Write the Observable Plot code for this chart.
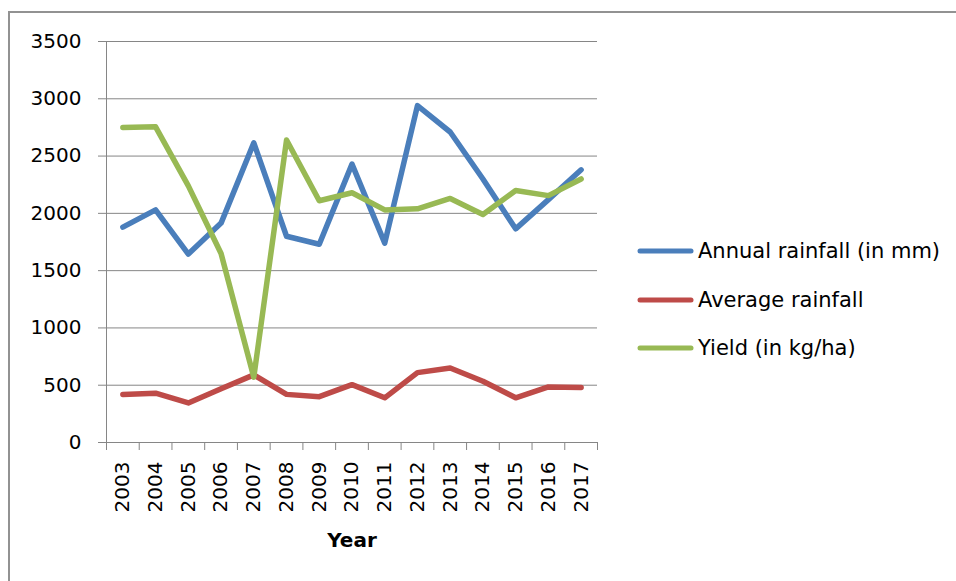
<!DOCTYPE html>
<html>
<head>
<meta charset="utf-8">
<script src="https://cdn.jsdelivr.net/npm/d3@7"></script>
<script src="https://cdn.jsdelivr.net/npm/@observablehq/plot@0.6"></script>
<style>
  html, body { margin: 0; padding: 0; background: #fff; overflow: hidden; }
  #wrap { position: relative; width: 956px; height: 581px; font-family: "DejaVu Sans", sans-serif; }
  #frame { position: absolute; left: 8px; top: 11px; width: 1100px; height: 800px; border-left: 2px solid #929292; border-top: 2px solid #929292; box-sizing: border-box; }
  #chart { position: absolute; left: 0; top: 0; }
  #legend { position: absolute; left: 637px; top: 227px; }
  .row { display: flex; align-items: center; height: 48.5px; }
  .row svg { display: block; margin-right: 4px; }
  .row span { font-size: 21px; color: #000; white-space: nowrap; }
</style>
</head>
<body>
<div id="wrap">
  <div id="frame"></div>
  <div id="chart"></div>
  <div id="legend"></div>
</div>
<script>
const years = [2003, 2004, 2005, 2006, 2007, 2008, 2009, 2010, 2011, 2012, 2013, 2014, 2015, 2016, 2017];
const annualRainfall = [1880, 2030, 1645, 1915, 2615, 1800, 1730, 2430, 1740, 2940, 2710, 2300, 1865, 2120, 2380];
const averageRainfall = [420, 430, 345, 470, 590, 420, 400, 505, 390, 610, 650, 535, 390, 485, 480];
const yieldKgHa = [2750, 2755, 2240, 1650, 570, 2640, 2110, 2180, 2030, 2040, 2130, 1990, 2200, 2155, 2300];
const yTicks = [0, 500, 1000, 1500, 2000, 2500, 3000, 3500];
const seriesNames = ["Annual rainfall (in mm)", "Average rainfall", "Yield (in kg/ha)"];
const seriesColors = ["#4a7ebb", "#be4b48", "#98b954"];
const seriesValues = [annualRainfall, averageRainfall, yieldKgHa];

const rows = [];
seriesNames.forEach((name, i) => {
  years.forEach((yr, j) => rows.push({series: name, year: yr, value: seriesValues[i][j]}));
});
const boundaries = years.map(y => y - 0.5).concat([years[years.length - 1] + 0.5]);

const chart = Plot.plot({
  width: 956,
  height: 581,
  marginLeft: 106,
  marginRight: 359,
  marginTop: 41,
  marginBottom: 139,
  style: {fontFamily: "DejaVu Sans, sans-serif", fontSize: "20px", color: "#000", background: "transparent", overflow: "visible"},
  x: {domain: [boundaries[0], boundaries[boundaries.length - 1]]},
  y: {domain: [0, 3500]},
  color: {domain: seriesNames, range: seriesColors},
  marks: [
    Plot.gridY(yTicks, {stroke: "#868686", strokeOpacity: 1, strokeWidth: 1}),
    Plot.ruleX([boundaries[0]], {stroke: "#868686", strokeWidth: 1}),
    Plot.axisY({ticks: yTicks, tickSize: 8, tickPadding: 17, stroke: "#868686", fill: "#000", fontSize: 20, label: null, tickFormat: d => String(d)}),
    Plot.axisX({ticks: boundaries, tickSize: 8, stroke: "#868686", tickFormat: () => "", label: null}),
    Plot.axisX({ticks: years, tickSize: 0, tickPadding: 19, tickRotate: -90, fill: "#000", fontSize: 20, label: null, tickFormat: d => String(d)}),
    Plot.lineY(rows, {x: "year", y: "value", stroke: "series", z: "series", strokeWidth: 5.5, strokeLinecap: "round", strokeLinejoin: "round"}),
    Plot.text(["Year"], {frameAnchor: "bottom", dy: 104, fontSize: 20, fontWeight: "bold", fill: "#000"})
  ]
});
document.getElementById("chart").appendChild(chart);

const legend = document.getElementById("legend");
seriesNames.forEach((name, i) => {
  const row = document.createElement("div");
  row.className = "row";
  row.innerHTML = `<svg width="57" height="8"><line x1="3" y1="4" x2="54" y2="4" stroke="${seriesColors[i]}" stroke-width="5" stroke-linecap="round"/></svg><span>${name}</span>`;
  legend.appendChild(row);
});
</script>
</body>
</html>
